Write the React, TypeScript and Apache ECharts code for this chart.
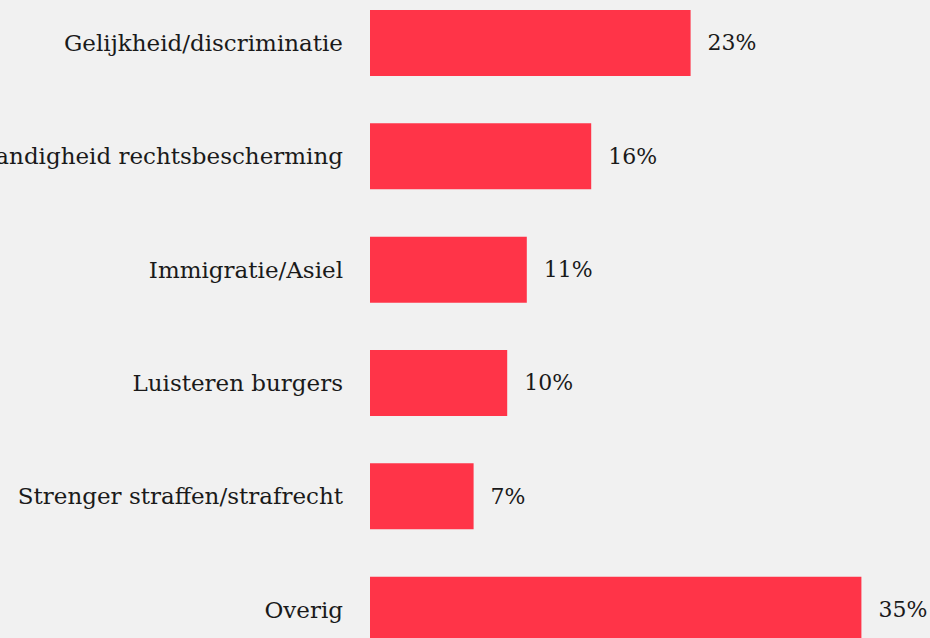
import React, { useEffect, useRef } from "react";
import * as echarts from "echarts";

const categories = [
  "Gelijkheid/discriminatie",
  "Zelfstandigheid rechtsbescherming",
  "Immigratie/Asiel",
  "Luisteren burgers",
  "Strenger straffen/strafrecht",
  "Overig",
];
const values = [22.9, 15.8, 11.2, 9.8, 7.4, 35.1];

const FONT = "DejaVu Serif";

export default function App() {
  const ref = useRef<HTMLDivElement>(null);
  useEffect(() => {
    if (!ref.current) return;
    const chart = echarts.init(ref.current, undefined, { renderer: "svg" });
    chart.setOption({
      animation: false,
      backgroundColor: "#f1f1f1",
      grid: {
        left: 370,
        right: 0,
        top: -13.7,
        height: 680,
        containLabel: false,
        outerBoundsMode: "none",
      },
      xAxis: {
        type: "value",
        min: 0,
        max: 40,
        show: false,
      },
      yAxis: {
        type: "category",
        data: categories,
        inverse: true,
        axisLine: { show: false },
        axisTick: { show: false },
        splitLine: { show: false },
        axisLabel: {
          margin: 27,
          color: "#1a1a1a",
          fontFamily: FONT,
          fontSize: 23,
        },
      },
      series: [
        {
          type: "bar",
          data: values,
          barWidth: 66,
          itemStyle: { color: "#ff3448" },
          label: {
            show: true,
            position: "right",
            distance: 17,
            color: "#1a1a1a",
            fontFamily: FONT,
            fontSize: 22,
            formatter: (p: any) => Math.round(p.value) + "%",
          },
        },
      ],
    });
    return () => chart.dispose();
  }, []);
  return (
    <div
      ref={ref}
      style={{ position: "fixed", left: 0, top: 0, width: 930, height: 638 }}
    />
  );
}
